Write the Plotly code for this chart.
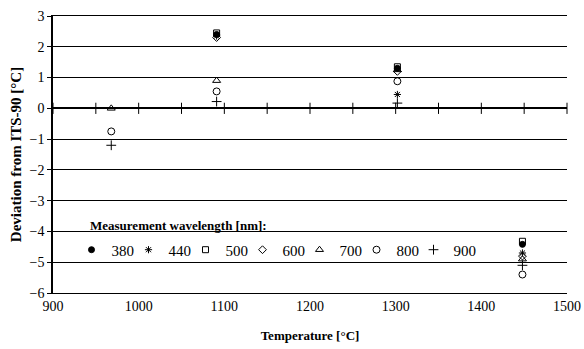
import plotly.graph_objects as go

temperatures = [968, 1091, 1302, 1448]
wavelengths = ["380", "440", "500", "600", "700", "800", "900"]
dev_380 = [None, 2.40, 1.30, -4.42]
dev_440 = [None, 2.35, 0.45, -4.70]
dev_500 = [None, 2.45, 1.35, -4.32]
dev_600 = [None, 2.30, 1.20, -4.80]
dev_700 = [0.00, 0.90, 1.25, -4.90]
dev_800 = [-0.75, 0.55, 0.88, -5.40]
dev_900 = [-1.20, 0.22, 0.17, -5.10]
x_ticks = [900, 1000, 1100, 1200, 1300, 1400, 1500]
zero_line_ticks = [900, 950, 1000, 1050, 1100, 1150, 1200, 1250, 1300,
                   1350, 1400, 1450, 1500]
y_ticks = [-6, -5, -4, -3, -2, -1, 0, 1, 2, 3]

series = [dev_380, dev_440, dev_500, dev_600, dev_700, dev_800, dev_900]
symbols = ["circle", "asterisk-open", "square-open", "diamond-open",
           "triangle-up-open", "circle-open", "cross-thin-open"]
sizes = [6, 6, 6, 6, 7, 7, 7]

FONT = "Liberation Serif"
fig = go.Figure()

# crossing tick marks on the zero line
fig.add_trace(go.Scatter(
    x=zero_line_ticks, y=[0] * len(zero_line_ticks), mode="markers",
    showlegend=False, hoverinfo="skip", cliponaxis=False,
    marker=dict(symbol="line-ns-open", size=8, color="black",
                line=dict(color="black", width=1)),
))

for name, vals, sym, sz in zip(wavelengths, series, symbols, sizes):
    fig.add_trace(go.Scatter(
        x=temperatures, y=vals, mode="markers", name=name, cliponaxis=False,
        marker=dict(symbol=sym, size=sz, color="black",
                    line=dict(color="black", width=1)),
    ))

# empty spacer entry so the last legend label is not clipped
fig.add_trace(go.Scatter(
    x=[None], y=[None], mode="markers", name=" ", hoverinfo="skip",
    marker=dict(color="rgba(0,0,0,0)", size=1),
))

fig.update_layout(
    width=584, height=349,
    margin=dict(l=53, r=17, t=16, b=56),
    paper_bgcolor="white", plot_bgcolor="white",
    font=dict(family=FONT, size=14, color="black"),
    xaxis=dict(range=[900, 1500], tickvals=x_ticks, ticks="", showgrid=False,
               zeroline=False, showline=True, mirror=True, linecolor="black",
               linewidth=1, tickfont=dict(size=14), automargin=False,
               title=dict(text="<b>Temperature [°C]</b>", font=dict(size=13),
                          standoff=18)),
    yaxis=dict(range=[-6, 3], tickvals=y_ticks, ticks="outside", ticklen=4,
               tickcolor="black", showline=True, linecolor="black", linewidth=1.5,
               showgrid=True, gridcolor="black", gridwidth=1,
               zeroline=True, zerolinecolor="black", zerolinewidth=1.5,
               tickfont=dict(size=14), automargin=False,
               title=dict(text="<b>Deviation from ITS-90 [°C]</b>",
                          font=dict(size=15), standoff=4)),
    legend=dict(orientation="h", x=0.036, y=0.215, xanchor="left", yanchor="top",
                bgcolor="rgba(0,0,0,0)", font=dict(family=FONT, size=15),
                itemwidth=30, entrywidth=12, tracegroupgap=0),
    showlegend=True,
    annotations=[dict(text="<b>Measurement wavelength [nm]:</b>",
                      xref="paper", yref="y", x=0.068, y=-3.8,
                      xanchor="left", yanchor="middle", showarrow=False,
                      font=dict(family=FONT, size=13))],
)

fig.write_html("out.html")
